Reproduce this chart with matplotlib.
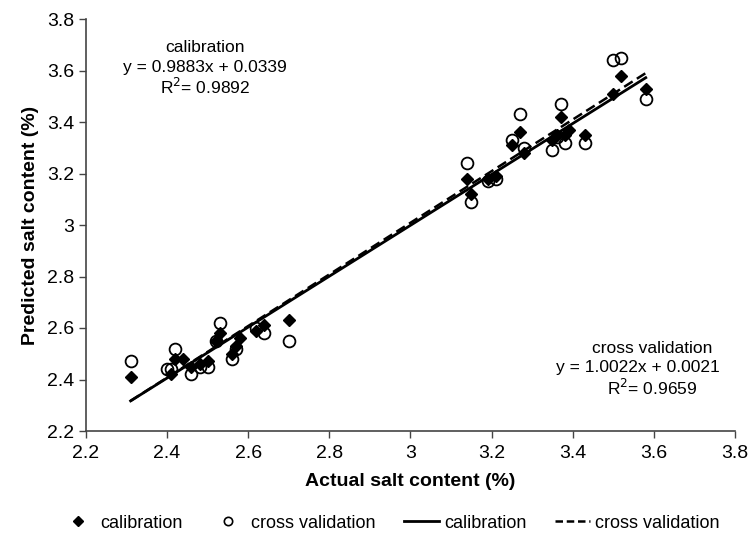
import numpy as np
import matplotlib.pyplot as plt
from matplotlib.lines import Line2D

plt.rcParams['font.family'] = ['Liberation Sans', 'DejaVu Sans']

# calibration set (actual, predicted)
cal_x = [2.31, 2.41, 2.42, 2.44, 2.46, 2.48, 2.50, 2.52, 2.53, 2.56, 2.57, 2.58,
         2.62, 2.64, 2.70, 3.14, 3.15, 3.19, 3.21, 3.25, 3.27, 3.28, 3.35, 3.36,
         3.37, 3.38, 3.39, 3.43, 3.50, 3.52, 3.58]
cal_y = [2.41, 2.42, 2.48, 2.48, 2.45, 2.46, 2.47, 2.55, 2.58, 2.50, 2.53, 2.56,
         2.59, 2.61, 2.63, 3.18, 3.12, 3.18, 3.19, 3.31, 3.36, 3.28, 3.33, 3.35,
         3.42, 3.35, 3.37, 3.35, 3.51, 3.58, 3.53]

# cross validation set
cv_x = [2.31, 2.40, 2.41, 2.42, 2.46, 2.48, 2.50, 2.52, 2.53, 2.56, 2.57, 2.62,
        2.64, 2.70, 3.14, 3.15, 3.19, 3.21, 3.25, 3.27, 3.28, 3.35, 3.36, 3.37,
        3.38, 3.43, 3.50, 3.52, 3.58]
cv_y = [2.47, 2.44, 2.44, 2.52, 2.42, 2.45, 2.45, 2.55, 2.62, 2.48, 2.52, 2.60,
        2.58, 2.55, 3.24, 3.09, 3.17, 3.18, 3.33, 3.43, 3.30, 3.29, 3.34, 3.47,
        3.32, 3.32, 3.64, 3.65, 3.49]

# regression lines as printed on the chart
cal_slope, cal_icpt = 0.9883, 0.0339
cv_slope, cv_icpt = 1.0022, 0.0021
line_x = np.array([2.31, 3.58])

fig = plt.figure(figsize=(7.49, 5.33), dpi=100)
ax = fig.add_axes([86/749, 1 - 431/533, (735-86)/749, (431-19)/533])

ax.plot(cal_x, cal_y, 'D', color='black', ms=6.5, zorder=3)
ax.plot(cv_x, cv_y, 'o', mfc='none', mec='black', mew=1.3, ms=8.5, zorder=3)
ax.plot(line_x, cal_slope*line_x + cal_icpt, '-', color='black', lw=2)
ax.plot(line_x, cv_slope*line_x + cv_icpt, '--', color='black', lw=1.8, dashes=(4, 2))

ax.set_xlim(2.2, 3.8)
ax.set_ylim(2.2, 3.8)
ticks = [2.2, 2.4, 2.6, 2.8, 3.0, 3.2, 3.4, 3.6, 3.8]
labels = ['2.2', '2.4', '2.6', '2.8', '3', '3.2', '3.4', '3.6', '3.8']
ax.set_xticks(ticks)
ax.set_xticklabels(labels)
ax.set_yticks(ticks)
ax.set_yticklabels(labels)
ax.tick_params(labelsize=14, length=5, width=1, color='#444444', direction='out')
ax.tick_params(axis='x', pad=5)
for s in ['top', 'right']:
    ax.spines[s].set_visible(False)
for s in ['left', 'bottom']:
    ax.spines[s].set_color('#444444')
    ax.spines[s].set_linewidth(1.2)

ax.set_xlabel('Actual salt content (%)', fontsize=14, fontweight='bold', labelpad=8)
ax.set_ylabel('Predicted salt content (%)', fontsize=14, fontweight='bold', labelpad=6)

ax.text(2.493, 3.691, 'calibration', fontsize=12.5, ha='center', va='center')
ax.text(2.493, 3.61, 'y = 0.9883x + 0.0339', fontsize=12.5, ha='center', va='center')
ax.text(2.493, 3.536, 'R$^2$= 0.9892', fontsize=12.5, ha='center', va='center')

ax.text(3.595, 2.522, 'cross validation', fontsize=12.5, ha='center', va='center')
ax.text(3.56, 2.445, 'y = 1.0022x + 0.0021', fontsize=12.5, ha='center', va='center')
ax.text(3.595, 2.367, 'R$^2$= 0.9659', fontsize=12.5, ha='center', va='center')

handles = [
    Line2D([], [], marker='D', color='black', ls='none', ms=5),
    Line2D([], [], marker='o', mfc='none', mec='black', mew=1.2, ls='none', ms=6),
    Line2D([], [], color='black', lw=2),
    Line2D([], [], color='black', lw=1.8, ls='--', dashes=(3, 1.5)),
]
fig.legend(handles, ['calibration', 'cross validation', 'calibration', 'cross validation'],
           loc='center', bbox_to_anchor=(390/749, 1 - 523/533), ncol=4, frameon=False,
           fontsize=13, handlelength=1.9, handletextpad=0.3, columnspacing=1.6)

fig.savefig('out.png', dpi=100)
